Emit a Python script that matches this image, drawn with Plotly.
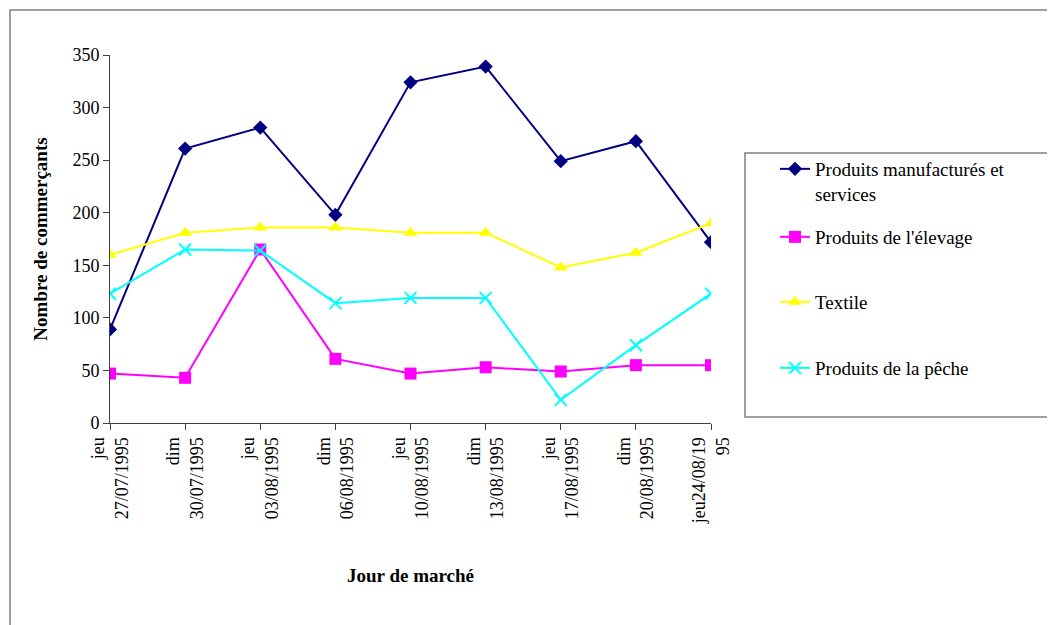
import plotly.graph_objects as go

days = ["jeu<br>27/07/1995", "dim<br>30/07/1995", "jeu<br>03/08/1995", "dim<br>06/08/1995",
        "jeu<br>10/08/1995", "dim<br>13/08/1995", "jeu<br>17/08/1995", "dim<br>20/08/1995",
        "jeu24/08/19<br>95"]
manuf = [89, 261, 281, 198, 324, 339, 249, 268, 172]
elevage = [47, 43, 165, 61, 47, 53, 49, 55, 55]
textile = [160, 181, 186, 186, 181, 181, 148, 162, 190]
peche = [123, 165, 164, 114, 119, 119, 22, 74, 123]

names = ["Produits manufacturés et<br>services", "Produits de l'élevage", "Textile", "Produits de la pêche"]
series = [manuf, elevage, textile, peche]
colors = ["#000080", "#FF00FF", "#FFFF00", "#00FFFF"]
symbols = ["diamond", "square", "triangle-up", "x-thin"]
sizes = [11, 12, 12, 12]

FONT = "Liberation Serif"
xs = list(range(len(days)))

# screen geometry (page has 8px body margin)
PL, PR, PT, PB = 110, 711, 55, 423
W = PR - PL
H = PB - PT

def px(sx):
    return (sx - PL) / W

def py(sy):
    return (PB - sy) / H

legend_names = ["legend", "legend2", "legend3", "legend4"]
legend_tops = [150, 218, 283, 349]

fig = go.Figure()
for i, (nm, ys) in enumerate(zip(names, series)):
    marker = dict(symbol=symbols[i], size=sizes[i], color=colors[i])
    if symbols[i] == "x-thin":
        marker["line"] = dict(color=colors[i], width=2)
    fig.add_trace(go.Scatter(
        x=xs, y=ys, name=nm, mode="lines+markers",
        line=dict(color=colors[i], width=2),
        marker=marker, legend=legend_names[i],
    ))

layout_legends = {}
for ln, top in zip(legend_names, legend_tops):
    layout_legends[ln] = dict(
        x=px(775), y=py(top), xanchor="left", yanchor="top",
        bgcolor="rgba(0,0,0,0)", borderwidth=0, valign="top",
        font=dict(family=FONT, size=19, color="black"),
    )

fig.update_layout(
    width=1055, height=625,
    margin=dict(l=PL - 8, r=1055 - (PR - 8), t=PT - 8, b=625 - (PB - 8)),
    paper_bgcolor="white", plot_bgcolor="white",
    font=dict(family=FONT, size=18, color="black"),
    showlegend=True,
    xaxis=dict(
        range=[0, 8], tickvals=xs, ticktext=days, tickangle=-90,
        showgrid=False, zeroline=False, showline=True, linecolor="#404040", linewidth=1,
        ticks="outside", ticklen=6, tickcolor="#404040",
        tickfont=dict(family=FONT, size=18),
        title=dict(text="<b>Jour de marché</b>", font=dict(family=FONT, size=19), standoff=45),
    ),
    yaxis=dict(
        range=[0, 350], dtick=50, tick0=0,
        showgrid=False, zeroline=False, showline=True, linecolor="#404040", linewidth=1,
        ticks="outside", ticklen=6, tickcolor="#404040",
        tickfont=dict(family=FONT, size=18),
        title=dict(text="<b>Nombre de commerçants</b>", font=dict(family=FONT, size=19), standoff=19),
    ),
    shapes=[
        dict(type="rect", xref="paper", yref="paper",
             x0=px(10), x1=2.0, y0=-1.0, y1=py(10),
             line=dict(color="#808080", width=1.5), fillcolor="rgba(0,0,0,0)", layer="below"),
        dict(type="rect", xref="paper", yref="paper",
             x0=px(745), x1=px(1050), y0=py(417), y1=py(153),
             line=dict(color="#808080", width=1.5), fillcolor="rgba(0,0,0,0)", layer="below"),
    ],
    **layout_legends,
)

fig.write_html("out.html")
